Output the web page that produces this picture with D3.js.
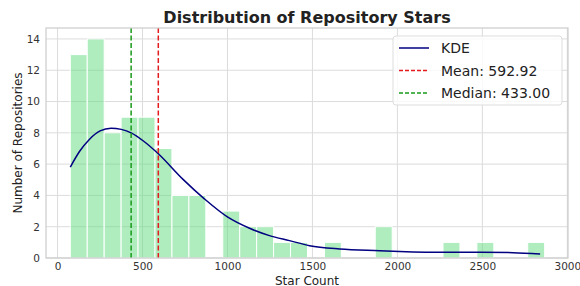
<!DOCTYPE html>
<html>
<head>
<meta charset="utf-8">
<script src="https://cdn.jsdelivr.net/npm/d3@7"></script>
<style>
  body { margin: 0; background: #fff; }
  text { font-family: "DejaVu Sans", sans-serif; }
</style>
</head>
<body>
<div id="chart"></div>
<script>
// histogram bins (star count) and counts
const binStart = 75;
const binWidth = 99.7;
const counts = [13, 14, 8, 9, 9, 7, 4, 4, 0, 3, 2, 2, 1, 1, 0, 1, 0, 0, 2, 0, 0, 0, 1, 0, 1, 0, 0, 1];

// KDE curve (stars, count scale)
const kdeX = [75, 130, 187, 250, 315, 375, 433, 511, 593, 737, 864, 1002, 1130, 1247, 1365, 1483, 1660, 1895, 2013, 2289, 2486, 2681, 2840];
const kdeY = [5.81, 6.82, 7.58, 8.12, 8.30, 8.22, 8.00, 7.43, 6.66, 5.04, 3.78, 2.61, 1.90, 1.43, 1.11, 0.79, 0.58, 0.47, 0.42, 0.36, 0.37, 0.34, 0.26];

const meanVal = 592.92;
const medianVal = 433.00;
const xTicks = [0, 500, 1000, 1500, 2000, 2500, 3000];
const yTicks = [0, 2, 4, 6, 8, 10, 12, 14];

const width = 580, height = 286;
const margin = { top: 28, right: 12, bottom: 28, left: 46 };

const svg = d3.select('#chart').append('svg')
    .attr('width', width)
    .attr('height', height);

const x = d3.scaleLinear().domain([-68, 3004]).range([margin.left, width - margin.right]);
const y = d3.scaleLinear().domain([0, 14.7]).range([height - margin.bottom, margin.top]);

// grid
svg.append('g').selectAll('line.gx').data(xTicks)
    .join('line')
    .attr('x1', d => x(d)).attr('x2', d => x(d))
    .attr('y1', margin.top).attr('y2', height - margin.bottom)
    .attr('stroke', '#dcdcdc').attr('stroke-width', 1);
svg.append('g').selectAll('line.gy').data(yTicks)
    .join('line')
    .attr('x1', margin.left).attr('x2', width - margin.right)
    .attr('y1', d => y(d)).attr('y2', d => y(d))
    .attr('stroke', '#dcdcdc').attr('stroke-width', 1);

// bars
const bins = counts.map((c, i) => ({ x0: binStart + i * binWidth, x1: binStart + (i + 1) * binWidth, c }));
svg.append('g').selectAll('rect').data(bins.filter(d => d.c > 0))
    .join('rect')
    .attr('x', d => x(d.x0))
    .attr('y', d => y(d.c))
    .attr('width', d => x(d.x1) - x(d.x0))
    .attr('height', d => y(0) - y(d.c))
    .attr('fill', 'rgb(96, 220, 128)')
    .attr('fill-opacity', 0.5)
    .attr('stroke', '#fff')
    .attr('stroke-width', 1);

// kde
const kde = kdeX.map((v, i) => [v, kdeY[i]]);
svg.append('path')
    .datum(kde)
    .attr('fill', 'none')
    .attr('stroke', '#000080')
    .attr('stroke-width', 1.5)
    .attr('d', d3.line().x(d => x(d[0])).y(d => y(d[1])).curve(d3.curveMonotoneX));

// mean / median
[[meanVal, '#e41a1c'], [medianVal, '#1a9a1a']].forEach(([v, c]) => {
    svg.append('line')
        .attr('x1', x(v)).attr('x2', x(v))
        .attr('y1', margin.top).attr('y2', height - margin.bottom)
        .attr('stroke', c).attr('stroke-width', 1.5)
        .attr('stroke-dasharray', '5,2.5');
});

// frame
svg.append('rect')
    .attr('x', margin.left).attr('y', margin.top)
    .attr('width', width - margin.right - margin.left)
    .attr('height', height - margin.bottom - margin.top)
    .attr('fill', 'none').attr('stroke', '#cccccc').attr('stroke-width', 1.2);

// axes
const xAxis = d3.axisBottom(x).tickValues(xTicks).tickFormat(d3.format('d')).tickSize(0).tickPadding(5);
svg.append('g')
    .attr('transform', `translate(0,${height - margin.bottom})`)
    .call(xAxis)
    .call(g => g.select('.domain').remove())
    .call(g => g.selectAll('text').attr('font-size', 10.5).attr('fill', '#333').attr('font-family', 'DejaVu Sans'));

const yAxis = d3.axisLeft(y).tickValues(yTicks).tickFormat(d3.format('d')).tickSize(0).tickPadding(6);
svg.append('g')
    .attr('transform', `translate(${margin.left},0)`)
    .call(yAxis)
    .call(g => g.select('.domain').remove())
    .call(g => g.selectAll('text').attr('font-size', 10.5).attr('fill', '#333').attr('font-family', 'DejaVu Sans'));

// labels
svg.append('text')
    .attr('x', (margin.left + width - margin.right) / 2)
    .attr('y', 284.5)
    .attr('text-anchor', 'middle')
    .attr('font-size', 12).attr('fill', '#222')
    .text('Star Count');

svg.append('text')
    .attr('transform', `translate(22,${(margin.top + height - margin.bottom) / 2}) rotate(-90)`)
    .attr('text-anchor', 'middle')
    .attr('font-size', 12).attr('fill', '#222')
    .text('Number of Repositories');

svg.append('text')
    .attr('x', (margin.left + width - margin.right) / 2)
    .attr('y', 23)
    .attr('text-anchor', 'middle')
    .attr('font-size', 16).attr('font-weight', 'bold').attr('fill', '#222')
    .text('Distribution of Repository Stars');

// legend
const legend = svg.append('g').attr('transform', 'translate(393,36)');
legend.append('rect')
    .attr('width', 169).attr('height', 69)
    .attr('rx', 3)
    .attr('fill', '#fff').attr('fill-opacity', 0.8)
    .attr('stroke', '#dddddd');
const items = [
    { label: 'KDE', color: '#000080', dash: null },
    { label: 'Mean: ' + meanVal.toFixed(2), color: '#e41a1c', dash: '4,2' },
    { label: 'Median: ' + medianVal.toFixed(2), color: '#1a9a1a', dash: '4,2' }
];
items.forEach((d, i) => {
    const cy = 12 + i * 22.5;
    legend.append('line')
        .attr('x1', 6).attr('x2', 36)
        .attr('y1', cy).attr('y2', cy)
        .attr('stroke', d.color).attr('stroke-width', 1.5)
        .attr('stroke-dasharray', d.dash);
    legend.append('text')
        .attr('x', 48).attr('y', cy + 5)
        .attr('font-size', 14).attr('fill', '#222')
        .text(d.label);
});
</script>
</body>
</html>
